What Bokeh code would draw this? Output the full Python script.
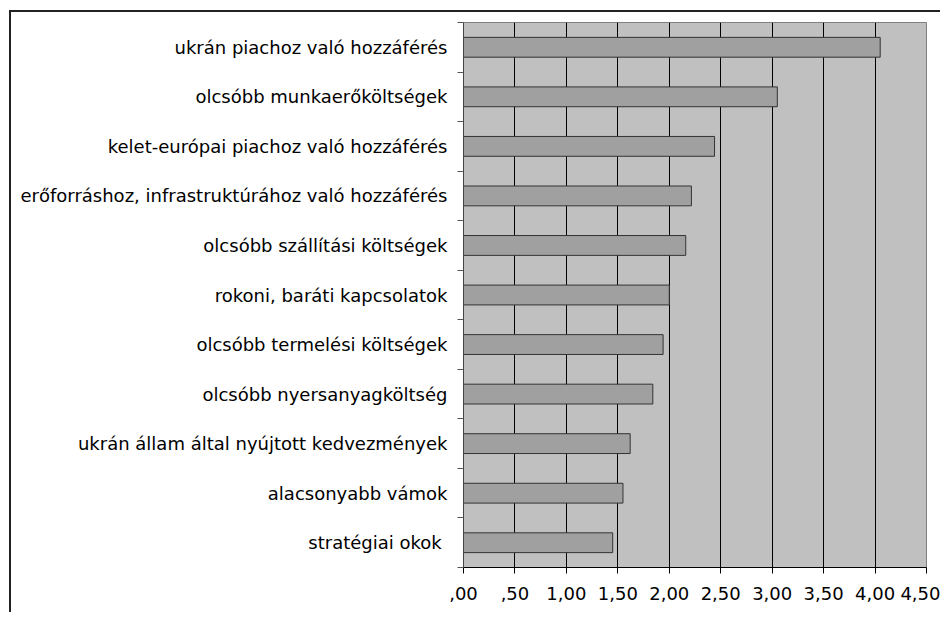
from bokeh.plotting import figure
from bokeh.models import FixedTicker, ColumnDataSource
from bokeh.embed import file_html
from bokeh.resources import INLINE

categories = [
    "ukrán piachoz való hozzáférés",
    "olcsóbb munkaerőköltségek",
    "kelet-európai piachoz való hozzáférés",
    "erőforráshoz, infrastruktúrához való hozzáférés",
    "olcsóbb szállítási költségek",
    "rokoni, baráti kapcsolatok",
    "olcsóbb termelési költségek",
    "olcsóbb nyersanyagköltség",
    "ukrán állam által nyújtott kedvezmények",
    "alacsonyabb vámok",
    "stratégiai okok ",
]
values = [4.05, 3.05, 2.44, 2.215, 2.16, 2.00, 1.94, 1.84, 1.62, 1.55, 1.45]
x_ticks = [0, 0.5, 1, 1.5, 2, 2.5, 3, 3.5, 4, 4.5]
x_tick_labels = [",00", ",50", "1,00", "1,50", "2,00", "2,50", "3,00", "3,50", "4,00", "4,50"]

n = len(categories)
centers = [n - 0.5 - i for i in range(n)]
src = ColumnDataSource(dict(y=centers, v=values, cat=categories))

FONT = "DejaVu Sans"
FSIZE = "18px"

p = figure(width=929, height=600, output_backend="svg", toolbar_location=None,
           x_range=(0, 4.5), y_range=(0, n),
           frame_width=463, frame_height=545,
           min_border_left=452, min_border_right=14, min_border_top=10, min_border_bottom=45)
p.styles = {"margin-left": "9px", "margin-top": "10px",
            "border-left": "2px solid #222222", "border-top": "2px solid #222222"}

p.border_fill_color = "white"
p.outline_line_color = "#808080"
p.outline_line_width = 1
p.background_fill_color = "#C0C0C0"

p.hbar(y="y", right="v", left=0, height=0.4, source=src,
       fill_color="#A0A0A0", line_color="#333333", line_width=1)

# grid
p.xgrid.ticker = FixedTicker(ticks=x_ticks)
p.xgrid.grid_line_color = "black"
p.xgrid.grid_line_width = 1
p.ygrid.grid_line_color = None

# x axis
xa = p.xaxis[0]
xa.ticker = FixedTicker(ticks=x_ticks)
xa.major_label_overrides = {t: l for t, l in zip(x_ticks, x_tick_labels)}
xa.major_tick_out = 6
xa.major_tick_in = 0
xa.minor_tick_line_color = None
xa.axis_line_color = "black"
xa.major_tick_line_color = "black"
xa.major_label_text_font = FONT
xa.major_label_text_font_size = FSIZE
xa.major_label_text_color = "black"
xa.major_label_standoff = 13

# y axis
ya = p.yaxis[0]
ya.ticker = FixedTicker(ticks=centers, minor_ticks=list(range(n + 1)))
ya.major_label_overrides = {c: l for c, l in zip(centers, categories)}
ya.major_tick_line_color = None
ya.major_tick_out = 6
ya.major_tick_in = 0
ya.minor_tick_out = 6
ya.minor_tick_in = 0
ya.minor_tick_line_color = "#555555"
ya.axis_line_color = "#444444"
ya.major_label_text_font = FONT
ya.major_label_text_font_size = FSIZE
ya.major_label_text_color = "black"
ya.major_label_standoff = 10

open("out.html", "w").write(file_html(p, INLINE))
